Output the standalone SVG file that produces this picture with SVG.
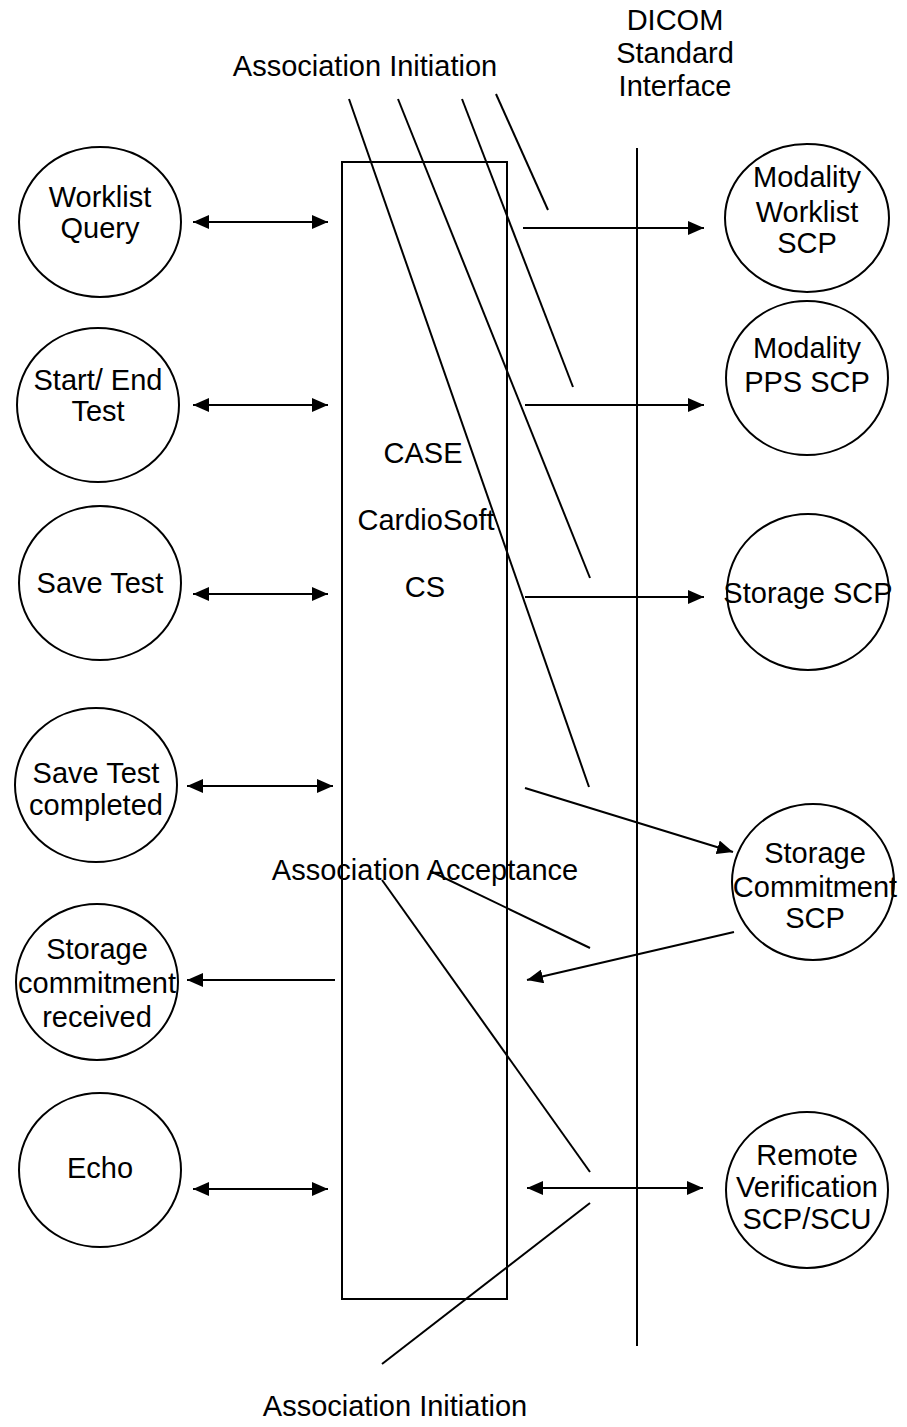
<svg xmlns="http://www.w3.org/2000/svg" width="907" height="1427" viewBox="0 0 907 1427">
<style>
text{font-family:"Liberation Sans",Arial,sans-serif;font-size:29px;fill:#000;text-anchor:middle}
.n ellipse{fill:#fff;stroke:#000;stroke-width:2}
.c line{stroke:#000;stroke-width:2}
</style>
<defs>
<marker id="ah" markerUnits="userSpaceOnUse" markerWidth="17" markerHeight="14" refX="16" refY="7" orient="auto-start-reverse"><path d="M0,0 L16,7 L0,14 Z" fill="#000"/></marker>
</defs>
<rect width="907" height="1427" fill="#fff"/>
<g id="cs-box"><rect x="342" y="162" width="165" height="1137" fill="none" stroke="#000" stroke-width="2"/>
<text x="423" y="463">CASE</text><text x="426" y="530">CardioSoft</text><text x="425" y="597">CS</text></g>
<g id="dicom-line"><line x1="637" y1="148" x2="637" y2="1346" stroke="#000" stroke-width="2"/>
<text x="675" y="30">DICOM</text><text x="675" y="63">Standard</text><text x="675" y="96">Interface</text></g>
<g id="labels">
<text x="365" y="76">Association Initiation</text>
<text x="425" y="880">Association Acceptance</text>
<text x="395" y="1416">Association Initiation</text>
</g>
<g id="worklist-query" class="n"><ellipse cx="100" cy="222" rx="81" ry="75"/><text x="100" y="207">Worklist</text><text x="100" y="238">Query</text></g>
<g id="start-end-test" class="n"><ellipse cx="98" cy="405" rx="81" ry="77"/><text x="98" y="390">Start/ End</text><text x="98" y="421">Test</text></g>
<g id="save-test" class="n"><ellipse cx="100" cy="583" rx="81" ry="77"/><text x="100" y="593">Save Test</text></g>
<g id="save-test-completed" class="n"><ellipse cx="96" cy="785" rx="81" ry="77"/><text x="96" y="783">Save Test</text><text x="96" y="815">completed</text></g>
<g id="storage-commitment-received" class="n"><ellipse cx="97" cy="982" rx="81" ry="78"/><text x="97" y="959">Storage</text><text x="97" y="993">commitment</text><text x="97" y="1027">received</text></g>
<g id="echo" class="n"><ellipse cx="100" cy="1170" rx="81" ry="77"/><text x="100" y="1178">Echo</text></g>
<g id="modality-worklist-scp" class="n"><ellipse cx="807" cy="218" rx="82" ry="74"/><text x="807" y="187">Modality</text><text x="807" y="222">Worklist</text><text x="807" y="253">SCP</text></g>
<g id="modality-pps-scp" class="n"><ellipse cx="807" cy="378" rx="81" ry="77"/><text x="807" y="358">Modality</text><text x="807" y="392">PPS SCP</text></g>
<g id="storage-scp" class="n"><ellipse cx="808" cy="592" rx="81" ry="78"/><text x="808" y="603">Storage SCP</text></g>
<g id="storage-commitment-scp" class="n"><ellipse cx="813" cy="882" rx="81" ry="78"/><text x="815" y="863">Storage</text><text x="815" y="897">Commitment</text><text x="815" y="928">SCP</text></g>
<g id="remote-verification" class="n"><ellipse cx="807" cy="1190" rx="81" ry="78"/><text x="807" y="1165">Remote</text><text x="807" y="1197">Verification</text><text x="807" y="1229">SCP/SCU</text></g>
<g id="connectors" class="c">
<line x1="193" y1="222" x2="328" y2="222" marker-start="url(#ah)" marker-end="url(#ah)"/>
<line x1="193" y1="405" x2="328" y2="405" marker-start="url(#ah)" marker-end="url(#ah)"/>
<line x1="193" y1="594" x2="328" y2="594" marker-start="url(#ah)" marker-end="url(#ah)"/>
<line x1="187" y1="786" x2="333" y2="786" marker-start="url(#ah)" marker-end="url(#ah)"/>
<line x1="335" y1="980" x2="187" y2="980" marker-end="url(#ah)"/>
<line x1="193" y1="1189" x2="328" y2="1189" marker-start="url(#ah)" marker-end="url(#ah)"/>
<line x1="523" y1="228" x2="704" y2="228" marker-end="url(#ah)"/>
<line x1="525" y1="405" x2="704" y2="405" marker-end="url(#ah)"/>
<line x1="525" y1="597" x2="704" y2="597" marker-end="url(#ah)"/>
<line x1="525" y1="788" x2="733" y2="852" marker-end="url(#ah)"/>
<line x1="734" y1="932" x2="527" y2="980" marker-end="url(#ah)"/>
<line x1="527" y1="1188" x2="703" y2="1188" marker-start="url(#ah)" marker-end="url(#ah)"/>
<line x1="349" y1="99" x2="589" y2="787"/>
<line x1="398" y1="99" x2="590" y2="578"/>
<line x1="462" y1="99" x2="573" y2="387"/>
<line x1="496" y1="94" x2="548" y2="210"/>
<line x1="430" y1="871" x2="590" y2="948"/>
<line x1="382" y1="880" x2="590" y2="1172"/>
<line x1="590" y1="1203" x2="382" y2="1364"/>
</g>
</svg>
